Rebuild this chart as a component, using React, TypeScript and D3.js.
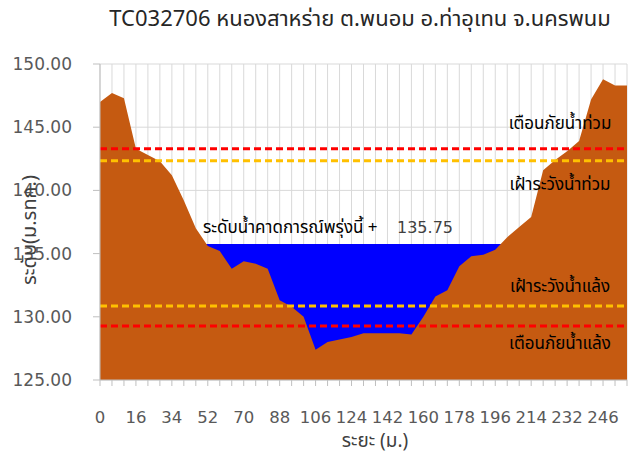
import React, { useEffect, useRef } from 'react';
import * as d3 from 'd3';

// distance along the section (m)
const distances = [0, 5, 10, 16, 22, 28, 34, 40, 46, 52, 58, 64, 70, 76, 82, 88, 94, 100, 106, 112, 118, 124, 130, 136, 142, 148, 154, 160, 166, 172, 178, 184, 190, 196, 202, 208, 214, 220, 226, 232, 237, 242, 246, 250, 254];
// ground level (m. MSL)
const ground = [147.0, 147.7, 147.3, 143.3, 142.8, 142.3, 141.2, 139.2, 137.0, 135.6, 135.2, 133.8, 134.4, 134.2, 133.8, 131.3, 130.8, 130.0, 127.4, 128.0, 128.2, 128.4, 128.7, 128.7, 128.7, 128.7, 128.6, 130.0, 131.6, 132.1, 134.0, 134.8, 134.9, 135.3, 136.3, 137.1, 137.9, 141.6, 142.4, 143.1, 143.9, 147.2, 148.8, 148.3, 148.3];
// forecast water level, only over the channel
const water = [null, null, null, null, null, null, null, null, 135.75, 135.75, 135.75, 135.75, 135.75, 135.75, 135.75, 135.75, 135.75, 135.75, 135.75, 135.75, 135.75, 135.75, 135.75, 135.75, 135.75, 135.75, 135.75, 135.75, 135.75, 135.75, 135.75, 135.75, 135.75, 135.75, 135.75, null, null, null, null, null, null, null, null, null, null];

const yTicks = [125, 130, 135, 140, 145, 150];
const thresholds = [
  { name: 'เตือนภัยน้ำท่วม', value: 143.3, color: '#FF0000', labelValue: 145.3 },
  { name: 'เฝ้าระวังน้ำท่วม', value: 142.35, color: '#FFC000', labelValue: 140.5 },
  { name: 'เฝ้าระวังน้ำแล้ง', value: 130.85, color: '#FFC000', labelValue: 132.4 },
  { name: 'เตือนภัยน้ำแล้ง', value: 129.27, color: '#FF0000', labelValue: 127.9 },
];
const forecastLevel = 135.75;

const W = 637;
const H = 456;
const FONT = "'Noto Sans Thai', Tahoma, 'DejaVu Sans', sans-serif";
const NUM_FONT = "'DejaVu Sans', sans-serif";

const App = () => {
  const ref = useRef<SVGSVGElement | null>(null);

  useEffect(() => {
    const svg = d3.select(ref.current);
    svg.selectAll('*').remove();

    const left = 100, right = 627, top = 64, bottom = 380;
    const x = d3.scalePoint<number>().domain(d3.range(distances.length)).range([left, right]);
    const y = d3.scaleLinear().domain([125, 150]).range([bottom, top]);

    // gridlines
    svg.append('g').selectAll('line').data(yTicks).join('line')
      .attr('x1', left).attr('x2', right)
      .attr('y1', d => y(d)).attr('y2', d => y(d))
      .attr('stroke', '#D9D9D9').attr('stroke-width', 1);
    svg.append('g').selectAll('line').data(distances).join('line')
      .attr('x1', (_, i) => x(i)!).attr('x2', (_, i) => x(i)!)
      .attr('y1', top).attr('y2', bottom)
      .attr('stroke', '#D9D9D9').attr('stroke-width', 1);

    // water then ground on top
    const area = d3.area<number | null>()
      .defined(d => d !== null)
      .x((_, i) => x(i)!)
      .y0(bottom)
      .y1(d => y(d as number));
    svg.append('path').datum(water).attr('d', area).attr('fill', '#0000FF');
    svg.append('path').datum(ground).attr('d', area).attr('fill', '#C55A11');

    // threshold lines
    svg.append('g').selectAll('line').data(thresholds).join('line')
      .attr('x1', left).attr('x2', right)
      .attr('y1', d => y(d.value)).attr('y2', d => y(d.value))
      .attr('stroke', d => d.color).attr('stroke-width', 3)
      .attr('stroke-dasharray', '7,4');
    svg.append('g').selectAll('text').data(thresholds).join('text')
      .attr('x', 560).attr('y', d => y(d.labelValue))
      .attr('dy', '0.35em')
      .attr('text-anchor', 'middle')
      .attr('font-size', 17)
      .attr('fill', '#000')
      .text(d => d.name);

    // axes
    svg.append('line').attr('x1', left).attr('x2', left).attr('y1', top).attr('y2', bottom)
      .attr('stroke', '#BFBFBF');
    svg.append('line').attr('x1', left).attr('x2', right).attr('y1', bottom).attr('y2', bottom)
      .attr('stroke', '#BFBFBF');
    svg.append('g').selectAll('line').data(yTicks).join('line')
      .attr('x1', left - 7).attr('x2', left)
      .attr('y1', d => y(d)).attr('y2', d => y(d))
      .attr('stroke', '#BFBFBF');
    svg.append('g').selectAll('text').data(yTicks).join('text')
      .attr('x', 72).attr('y', d => y(d)).attr('dy', '0.35em')
      .attr('text-anchor', 'end').attr('font-size', 17).attr('font-family', NUM_FONT)
      .attr('fill', '#595959')
      .text(d => d.toFixed(2));
    svg.append('g').selectAll('line').data(distances).join('line')
      .attr('x1', (_, i) => x(i)!).attr('x2', (_, i) => x(i)!)
      .attr('y1', bottom).attr('y2', bottom + 6)
      .attr('stroke', '#BFBFBF');
    svg.append('g').selectAll('text').data(distances.filter((_, i) => i % 3 === 0)).join('text')
      .attr('x', d => x(distances.indexOf(d))!).attr('y', 417).attr('dy', '0.35em')
      .attr('text-anchor', 'middle').attr('font-size', 16.5).attr('font-family', NUM_FONT)
      .attr('fill', '#595959')
      .text(d => d);

    // titles
    svg.append('text').attr('x', 360).attr('y', 18).attr('dy', '0.35em')
      .attr('text-anchor', 'middle').attr('font-size', 22).attr('fill', '#262626')
      .text('TC032706 หนองสาหร่าย ต.พนอม อ.ท่าอุเทน จ.นครพนม');
    svg.append('text').attr('transform', 'translate(29,230) rotate(-90)').attr('dy', '0.35em')
      .attr('text-anchor', 'middle').attr('font-size', 20).attr('fill', '#404040')
      .text('ระดับ(ม.รทก.)');
    svg.append('text').attr('x', 375).attr('y', 440).attr('dy', '0.35em')
      .attr('text-anchor', 'middle').attr('font-size', 19).attr('fill', '#404040')
      .text('ระยะ (ม.)');

    // forecast annotation
    const note = svg.append('text').attr('x', 203).attr('y', y(forecastLevel) - 17).attr('dy', '0.35em')
      .attr('font-size', 17).attr('fill', '#000');
    note.append('tspan').text('ระดับน้ำคาดการณ์พรุ่งนี้ +');
    note.append('tspan').attr('x', 397).attr('fill', '#404040').attr('font-size', 16)
      .attr('font-family', NUM_FONT).text(forecastLevel.toFixed(2));
  }, []);

  return (
    <svg ref={ref} width={W} height={H} fontFamily={FONT}
      style={{ position: 'absolute', left: 0, top: 0, background: '#fff' }} />
  );
};

export default App;
